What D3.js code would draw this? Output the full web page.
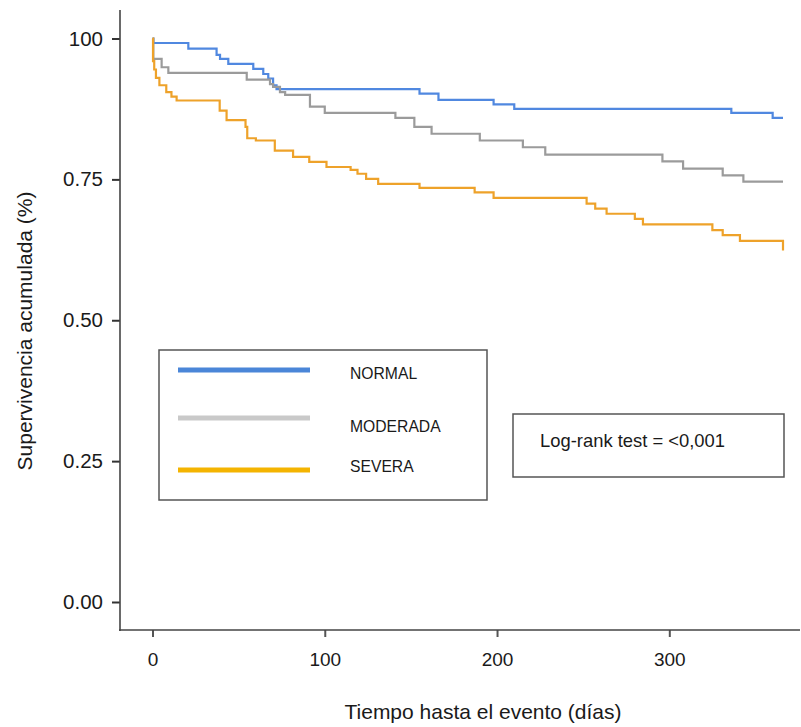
<!DOCTYPE html>
<html>
<head>
<meta charset="utf-8">
<script src="https://cdn.jsdelivr.net/npm/d3@7"></script>
<style>
body{margin:0;background:#fff;}
text{font-family:"Liberation Sans",Arial,sans-serif;fill:#1a1a1a;}
</style>
</head>
<body>
<svg id="svg" width="801" height="727"></svg>
<script>
// survival steps: time (days) and cumulative survival after the step
var normal_time = [0, 0.5, 20.8, 37.2, 39.2, 44, 58.5, 64.3, 67.2, 70, 72, 155, 166, 198, 210, 336, 360, 366];
var normal_surv = [1, 0.992, 0.982, 0.971, 0.964, 0.955, 0.946, 0.937, 0.929, 0.917, 0.91, 0.902, 0.891, 0.883, 0.875, 0.868, 0.859, 0.859];

var moderada_time = [0, 0.5, 5.3, 9.2, 54.7, 68.2, 70, 74, 77, 91.4, 100, 141, 152, 162, 190, 215, 228, 296, 308, 331, 343, 366];
var moderada_surv = [1, 0.964, 0.949, 0.939, 0.927, 0.919, 0.914, 0.905, 0.9, 0.879, 0.868, 0.859, 0.843, 0.831, 0.819, 0.807, 0.794, 0.782, 0.769, 0.757, 0.746, 0.746];

var severa_time = [0, 0.3, 1, 2, 4, 8, 11, 14, 39, 43, 54, 55, 60, 71, 81.6, 91, 101, 115, 119, 124, 131, 155, 187, 198, 252, 257, 263.6, 280, 284.7, 325, 331, 341, 366];
var severa_surv = [1, 0.96, 0.945, 0.93, 0.917, 0.905, 0.897, 0.89, 0.872, 0.855, 0.843, 0.823, 0.819, 0.801, 0.79, 0.781, 0.772, 0.767, 0.76, 0.751, 0.742, 0.735, 0.727, 0.717, 0.707, 0.698, 0.689, 0.68, 0.67, 0.66, 0.651, 0.641, 0.624];

var group_names = ["NORMAL", "MODERADA", "SEVERA"];
var group_colors = ["#5088e0", "#9b9b9b", "#eea22a"];
var legend_colors = ["#4a86d8", "#c9c9c9", "#f4b400"];

var x_ticks = [0, 100, 200, 300];
var y_ticks = [0, 0.25, 0.5, 0.75, 1];
var y_tick_labels = ["0.00", "0.25", "0.50", "0.75", "100"];

var svg = d3.select("#svg");

var x = d3.scaleLinear().domain([0, 366]).range([152.5, 783]);
var y = d3.scaleLinear().domain([0, 1]).range([602, 38.5]);

function zip(t, s){
    return t.map(function(d, i){ return {t: d, s: s[i]}; });
}
var curves = [zip(normal_time, normal_surv), zip(moderada_time, moderada_surv), zip(severa_time, severa_surv)];

// axes
var yAxis = d3.axisLeft(y)
    .tickValues(y_ticks)
    .tickSize(8)
    .tickPadding(9)
    .tickFormat(function(d, i){ return y_tick_labels[i]; });
var gy = svg.append("g").attr("transform", "translate(120,0)").call(yAxis);
gy.select(".domain").remove();
gy.selectAll(".tick line").attr("stroke", "#333").attr("stroke-width", 2);
gy.selectAll(".tick text").attr("font-size", "20.5px").attr("fill", "#1a1a1a")
    .attr("font-family", "Liberation Sans, Arial, sans-serif");

var xAxis = d3.axisBottom(x)
    .tickValues(x_ticks)
    .tickSize(7)
    .tickPadding(16);
var gx = svg.append("g").attr("transform", "translate(0,630)").call(xAxis);
gx.select(".domain").remove();
gx.selectAll(".tick line").attr("stroke", "#555").attr("stroke-width", 2);
gx.selectAll(".tick text").attr("font-size", "19px").attr("fill", "#1a1a1a")
    .attr("font-family", "Liberation Sans, Arial, sans-serif");

svg.append("line").attr("x1", 120).attr("x2", 120).attr("y1", 10).attr("y2", 631)
    .attr("stroke", "#444").attr("stroke-width", 1.6);
svg.append("line").attr("x1", 119).attr("x2", 800).attr("y1", 630).attr("y2", 630)
    .attr("stroke", "#444").attr("stroke-width", 1.6);

// axis titles
svg.append("text")
    .attr("transform", "translate(31.5,331) rotate(-90)")
    .attr("text-anchor", "middle")
    .attr("font-size", "21px")
    .text("Supervivencia acumulada (%)");
svg.append("text")
    .attr("x", 483).attr("y", 718.5)
    .attr("text-anchor", "middle")
    .attr("font-size", "21px")
    .text("Tiempo hasta el evento (días)");

// survival curves
var line = d3.line()
    .curve(d3.curveStepAfter)
    .x(function(d){ return x(d.t); })
    .y(function(d){ return y(d.s); });

svg.selectAll("path.km")
    .data(curves)
    .enter()
    .append("path")
    .attr("class", "km")
    .attr("d", line)
    .attr("fill", "none")
    .attr("stroke", function(d, i){ return group_colors[i]; })
    .attr("stroke-width", 2.2);

// legend box
svg.append("rect")
    .attr("x", 159).attr("y", 350).attr("width", 328).attr("height", 150)
    .attr("fill", "none").attr("stroke", "#555").attr("stroke-width", 1.5);

var legend_y = [370, 418, 470];
var text_y = [379, 432, 472];
svg.selectAll("line.lr")
    .data(group_names)
    .enter()
    .append("line")
    .attr("class", "lr")
    .attr("x1", 178).attr("x2", 310)
    .attr("y1", function(d, i){ return legend_y[i]; })
    .attr("y2", function(d, i){ return legend_y[i]; })
    .attr("stroke", function(d, i){ return legend_colors[i]; })
    .attr("stroke-width", 5);
svg.selectAll("text.lt")
    .data(group_names)
    .enter()
    .append("text")
    .attr("class", "lt")
    .attr("x", 350)
    .attr("y", function(d, i){ return text_y[i]; })
    .attr("font-size", "15.7px")
    .text(function(d){ return d; });

// log-rank box
svg.append("rect")
    .attr("x", 513).attr("y", 414).attr("width", 271).attr("height", 63)
    .attr("fill", "none").attr("stroke", "#555").attr("stroke-width", 1.5);
svg.append("text")
    .attr("x", 540).attr("y", 446.5)
    .attr("font-size", "18.4px")
    .text("Log-rank test = <0,001");
</script>
</body>
</html>
